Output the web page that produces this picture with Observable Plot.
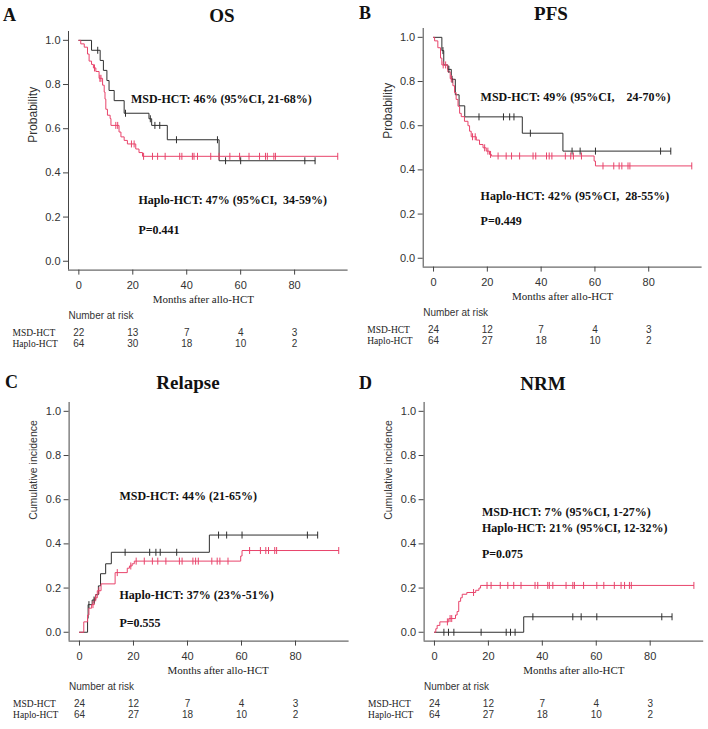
<!DOCTYPE html>
<html><head><meta charset="utf-8">
<script src="https://cdn.jsdelivr.net/npm/d3@7"></script>
<script src="https://cdn.jsdelivr.net/npm/@observablehq/plot@0.6"></script>
<style>
body{margin:0;background:#fff;}
#root{position:relative;width:708px;height:729px;overflow:hidden;background:#fff;}
#root svg{position:absolute;overflow:visible;}
svg text{white-space:pre;}
.lab{position:absolute;font-family:"Liberation Serif",serif;font-weight:bold;font-size:18px;line-height:1;transform:translate(0,-50%);color:#111;}
.ttl{position:absolute;font-family:"Liberation Serif",serif;font-weight:bold;font-size:19px;line-height:1;transform:translate(-50%,-50%);white-space:pre;color:#111;}
</style></head><body><div id="root"></div>
<script>
// ---------- data ----------
const riskTimes = [0, 20, 40, 60, 80];
const xTicks = [0, 20, 40, 60, 80];
const yTicks = [0, 0.2, 0.4, 0.6, 0.8, 1.0];
const groups = ["MSD-HCT", "Haplo-HCT"];

// A: OS
const osMsdTimes = [0, 4.7, 7.9, 9.1, 10.4, 11.2, 13.1, 16.8, 26.0, 27.0, 32.8, 52.0];
const osMsdSurv  = [1, 0.955, 0.909, 0.864, 0.818, 0.773, 0.727, 0.670, 0.645, 0.615, 0.550, 0.455];
const osMsdCensor = [7.0, 17.3, 26.5, 28.2, 30.0, 36.2, 51.4, 54.4, 60.0, 83.8, 87.6];
const osHaploTimes = [0, 0.7, 2.0, 3.2, 3.8, 4.7, 5.4, 6.3, 7.5, 8.8, 9.4, 9.7, 10.0, 10.6, 11.6, 11.9, 14.9, 15.6, 16.8, 18.0, 21.1, 22.3, 23.6];
const osHaploSurv  = [1, 0.984, 0.969, 0.938, 0.906, 0.891, 0.875, 0.859, 0.828, 0.797, 0.766, 0.734, 0.688, 0.661, 0.646, 0.615, 0.585, 0.563, 0.547, 0.531, 0.508, 0.492, 0.475];
const osHaploCensor = [5.8, 7.8, 8.2, 13.7, 14.4, 19.5, 20.5, 24.0, 27.3, 29.2, 32.0, 37.4, 38.2, 42.1, 42.7, 44.0, 48.9, 52.0, 56.0, 59.6, 63.1, 67.0, 69.2, 69.9, 72.3, 72.9, 96.0];
const osRiskMsd = [22, 13, 7, 4, 3];
const osRiskHaplo = [64, 30, 18, 10, 2];
const osNotes = ["MSD-HCT: 46% (95%CI, 21-68%)", "Haplo-HCT: 47% (95%CI,  34-59%)", "P=0.441"];

// B: PFS
const pfsMsdTimes = [0, 3.1, 3.8, 5.3, 6.6, 8.1, 9.5, 11.6, 33.0, 48.1];
const pfsMsdSurv  = [1, 0.94, 0.875, 0.855, 0.81, 0.74, 0.69, 0.64, 0.566, 0.485];
const pfsMsdCensor = [3.5, 5.7, 6.9, 16.9, 26.0, 28.3, 29.9, 36.0, 51.5, 54.5, 60.2, 84.4, 88.2];
const pfsHaploTimes = [0, 0.4, 1.6, 2.6, 3.1, 5.3, 6.2, 7.2, 7.8, 8.4, 9.1, 9.7, 10.3, 11.5, 12.8, 13.4, 14.0, 15.9, 17.1, 18.4, 19.6, 20.8, 21.5, 59.7, 60.2];
const pfsHaploSurv  = [1, 0.984, 0.953, 0.906, 0.875, 0.844, 0.813, 0.781, 0.75, 0.719, 0.688, 0.656, 0.641, 0.620, 0.600, 0.575, 0.55, 0.535, 0.515, 0.5, 0.485, 0.47, 0.463, 0.44, 0.418];
const pfsHaploCensor = [3.6, 4.5, 6.6, 14.5, 15.5, 19.0, 20.2, 21.2, 24.0, 27.0, 29.0, 32.0, 37.0, 38.0, 42.0, 43.0, 44.0, 49.0, 51.0, 52.0, 55.0, 63.0, 67.0, 69.0, 70.0, 72.3, 73.0, 96.0];
const pfsRiskMsd = [24, 12, 7, 4, 3];
const pfsRiskHaplo = [64, 27, 18, 10, 2];
const pfsNotes = ["MSD-HCT: 49% (95%CI,    24-70%)", "Haplo-HCT: 42% (95%CI,  28-55%)", "P=0.449"];

// C: Relapse
const relMsdTimes = [0, 3.0, 3.2, 4.7, 6.0, 7.0, 7.8, 9.7, 11.8, 48.1];
const relMsdInc   = [0, 0.063, 0.125, 0.146, 0.17, 0.21, 0.265, 0.31, 0.362, 0.44];
const relMsdCensor = [3.5, 5.4, 16.9, 26.0, 28.3, 29.9, 36.0, 51.5, 54.5, 60.2, 84.4, 88.2];
const relHaploTimes = [0, 1.6, 3.0, 3.5, 4.5, 5.5, 6.6, 8.0, 13.2, 17.7, 18.5, 19.5, 20.3, 59.7, 60.2];
const relHaploInc   = [0, 0.047, 0.078, 0.109, 0.125, 0.156, 0.188, 0.219, 0.27, 0.29, 0.30, 0.31, 0.322, 0.345, 0.37];
const relHaploCensor = [5.0, 6.0, 7.2, 14.0, 19.0, 21.0, 24.0, 27.0, 29.0, 32.0, 37.0, 38.0, 42.0, 43.0, 44.0, 49.0, 51.0, 52.0, 55.0, 63.0, 67.0, 69.0, 70.0, 72.3, 73.0, 96.0];
const relRiskMsd = [24, 12, 7, 4, 3];
const relRiskHaplo = [64, 27, 18, 10, 2];
const relNotes = ["MSD-HCT: 44% (21-65%)", "Haplo-HCT: 37% (23%-51%)", "P=0.555"];

// D: NRM
const nrmMsdTimes = [0, 33.1];
const nrmMsdInc   = [0, 0.07];
const nrmMsdCensor = [3.5, 5.2, 7.2, 17.3, 26.6, 28.2, 29.9, 36.5, 51.3, 54.4, 60.2, 84.3, 88.1];
const nrmHaploTimes = [0, 0.5, 1.0, 2.0, 5.3, 7.8, 8.4, 9.0, 9.7, 10.3, 12.0, 15.3, 16.5, 17.1];
const nrmHaploInc   = [0, 0.016, 0.031, 0.047, 0.062, 0.078, 0.094, 0.14, 0.156, 0.172, 0.18, 0.19, 0.2, 0.212];
const nrmHaploCensor = [4.8, 5.8, 6.4, 14.5, 19.5, 21.0, 24.4, 27.2, 29.4, 32.1, 37.3, 38.3, 42.0, 42.6, 43.9, 48.8, 51.3, 51.9, 55.3, 60.2, 62.8, 66.7, 69.2, 70.5, 72.3, 73.0, 96.2];
const nrmRiskMsd = [24, 12, 7, 4, 3];
const nrmRiskHaplo = [64, 27, 18, 10, 2];
const nrmNotes = ["MSD-HCT: 7% (95%CI, 1-27%)", "Haplo-HCT: 21% (95%CI, 12-32%)", "P=0.075"];

// ---------- layout ----------
const xDomain = [-3.84, 99.84];
const yDomain = [-0.04, 1.04];
const colors = {"MSD-HCT": "#2e2e2e", "Haplo-HCT": "#e8436a"};
const serif = "Liberation Serif, Times New Roman, serif";
const sans = "Liberation Sans, Arial, sans-serif";
const tickSymbol = {draw(ctx, size) { const h = Math.sqrt(size / Math.PI); ctx.moveTo(0, -h); ctx.lineTo(0, h); }};

function stepAt(times, vals, t) {
  let v = vals[0];
  for (let i = 0; i < times.length; i++) if (times[i] <= t) v = vals[i];
  return v;
}
function curve(group, times, vals, censor) {
  const end = Math.max(d3.max(times), d3.max(censor));
  const pts = times.map((t, i) => ({group, t, v: vals[i]}));
  pts.push({group, t: end, v: vals[vals.length - 1]});
  const cens = censor.map(t => ({group, t, v: stepAt(times, vals, t)}));
  return {pts, cens};
}

const panels = [
  {letter: "A", title: "OS", left: 0, frameTop: 31.2, mL: 68, mR: 6.4, letterPos: [3, 15], titlePos: [222, 15],
   ylabel: "Probability", ylabelSize: 12, ylabelDy: -8, xlabelDx: -5,
   series: [curve("MSD-HCT", osMsdTimes, osMsdSurv, osMsdCensor), curve("Haplo-HCT", osHaploTimes, osHaploSurv, osHaploCensor)],
   risk: [osRiskMsd, osRiskHaplo], notes: osNotes, notePos: [[19.3, 0.732], [22.1, 0.275], [22.1, 0.142]]},
  {letter: "B", title: "PFS", left: 354, frameTop: 28.2, mL: 68.7, mR: 6.4, letterPos: [359, 13], titlePos: [551, 13],
   ylabel: "Probability", ylabelSize: 12, ylabelDy: -9, xlabelDx: 0,
   series: [curve("MSD-HCT", pfsMsdTimes, pfsMsdSurv, pfsMsdCensor), curve("Haplo-HCT", pfsHaploTimes, pfsHaploSurv, pfsHaploCensor)],
   risk: [pfsRiskMsd, pfsRiskHaplo], notes: pfsNotes, notePos: [[17.5, 0.727], [17.5, 0.279], [17.5, 0.166]]},
  {letter: "C", title: "Relapse", left: 0, frameTop: 402.2, mL: 68.6, mR: 5.4, letterPos: [5, 382], titlePos: [188, 382],
   ylabel: "Cumulative incidence", ylabelSize: 10.5, ylabelDy: -2, xlabelDx: 9,
   series: [curve("MSD-HCT", relMsdTimes, relMsdInc, relMsdCensor), curve("Haplo-HCT", relHaploTimes, relHaploInc, relHaploCensor)],
   risk: [relRiskMsd, relRiskHaplo], notes: relNotes, notePos: [[14.8, 0.617], [14.8, 0.167], [14.8, 0.042]]},
  {letter: "D", title: "NRM", left: 354, frameTop: 402.2, mL: 69.6, mR: 4.8, letterPos: [359, 383], titlePos: [543, 383],
   ylabel: "Cumulative incidence", ylabelSize: 10.5, ylabelDy: -2, xlabelDx: 10,
   series: [curve("MSD-HCT", nrmMsdTimes, nrmMsdInc, nrmMsdCensor), curve("Haplo-HCT", nrmHaploTimes, nrmHaploInc, nrmHaploCensor)],
   risk: [nrmRiskMsd, nrmRiskHaplo], notes: nrmNotes, notePos: [[17.6, 0.545], [17.6, 0.469], [17.6, 0.353]]}
];

const root = document.getElementById("root");
const mTop = 10, mBottom = 86, frameH = 238.6;

for (const p of panels) {
  const marks = [
    Plot.ruleX([xDomain[0]], {stroke: "#444", strokeWidth: 1}),
    Plot.ruleY([yDomain[0]], {stroke: "#444", strokeWidth: 1}),
    Plot.axisY(yTicks, {tickFormat: d3.format(".1f"), tickSize: 5, tickPadding: 3, label: null, stroke: "#444", fill: "#333", fontSize: 11}),
    Plot.axisX(xTicks, {tickSize: 5, tickPadding: 6.5, label: null, stroke: "#444", fill: "#333", fontSize: 11}),
    Plot.text([p.ylabel], {frameAnchor: "left", dx: -35, dy: p.ylabelDy, rotate: -90, fontSize: p.ylabelSize, fill: "#333", fontFamily: sans}),
    Plot.text(["Months after allo-HCT"], {frameAnchor: "bottom", dx: p.xlabelDx, dy: 32.5, fontSize: 11, fill: "#222", fontFamily: serif}),
    Plot.text(["Number at risk"], {frameAnchor: "bottom-left", dy: 49, textAnchor: "start", fontSize: 10, fill: "#333", fontFamily: sans}),
    ...groups.map((g, gi) => Plot.text([g], {frameAnchor: "bottom-left", dx: -56, dy: 66 + gi * 11, textAnchor: "start", fontSize: 9.5, fill: "#222", fontFamily: serif})),
    ...groups.map((g, gi) => Plot.text(riskTimes, {x: d => d, text: (d, i) => p.risk[gi][i], frameAnchor: "bottom", dy: 66 + gi * 11, fontSize: 10, fill: "#333", fontFamily: sans})),
    ...p.series.map(s => Plot.line(s.pts, {x: "t", y: "v", curve: "step-after", stroke: d => colors[d.group], strokeWidth: 1})),
    ...p.series.map(s => Plot.dot(s.cens, {x: "t", y: "v", symbol: tickSymbol, r: 3.5, fill: "none", stroke: d => colors[d.group], strokeWidth: 1})),
    Plot.text(p.notes, {x: (d, i) => p.notePos[i][0], y: (d, i) => p.notePos[i][1], text: d => d, textAnchor: "start", fontSize: 12, fontWeight: "bold", fontFamily: serif, fill: "#111"})
  ];
  const svg = Plot.plot({
    width: 354,
    height: mTop + frameH + mBottom,
    marginTop: mTop, marginBottom: mBottom, marginLeft: p.mL, marginRight: p.mR,
    x: {domain: xDomain, axis: null},
    y: {domain: yDomain, axis: null},
    color: {type: "identity"},
    style: {fontFamily: sans, fontSize: "11px", background: "transparent", overflow: "visible"},
    marks
  });
  svg.style.left = p.left + "px";
  svg.style.top = (p.frameTop - mTop) + "px";
  root.appendChild(svg);

  const l = document.createElement("div");
  l.className = "lab"; l.textContent = p.letter;
  l.style.left = p.letterPos[0] + "px"; l.style.top = p.letterPos[1] + "px";
  root.appendChild(l);
  const t = document.createElement("div");
  t.className = "ttl"; t.textContent = p.title;
  t.style.left = p.titlePos[0] + "px"; t.style.top = p.titlePos[1] + "px";
  root.appendChild(t);
}
</script>
</body></html>
